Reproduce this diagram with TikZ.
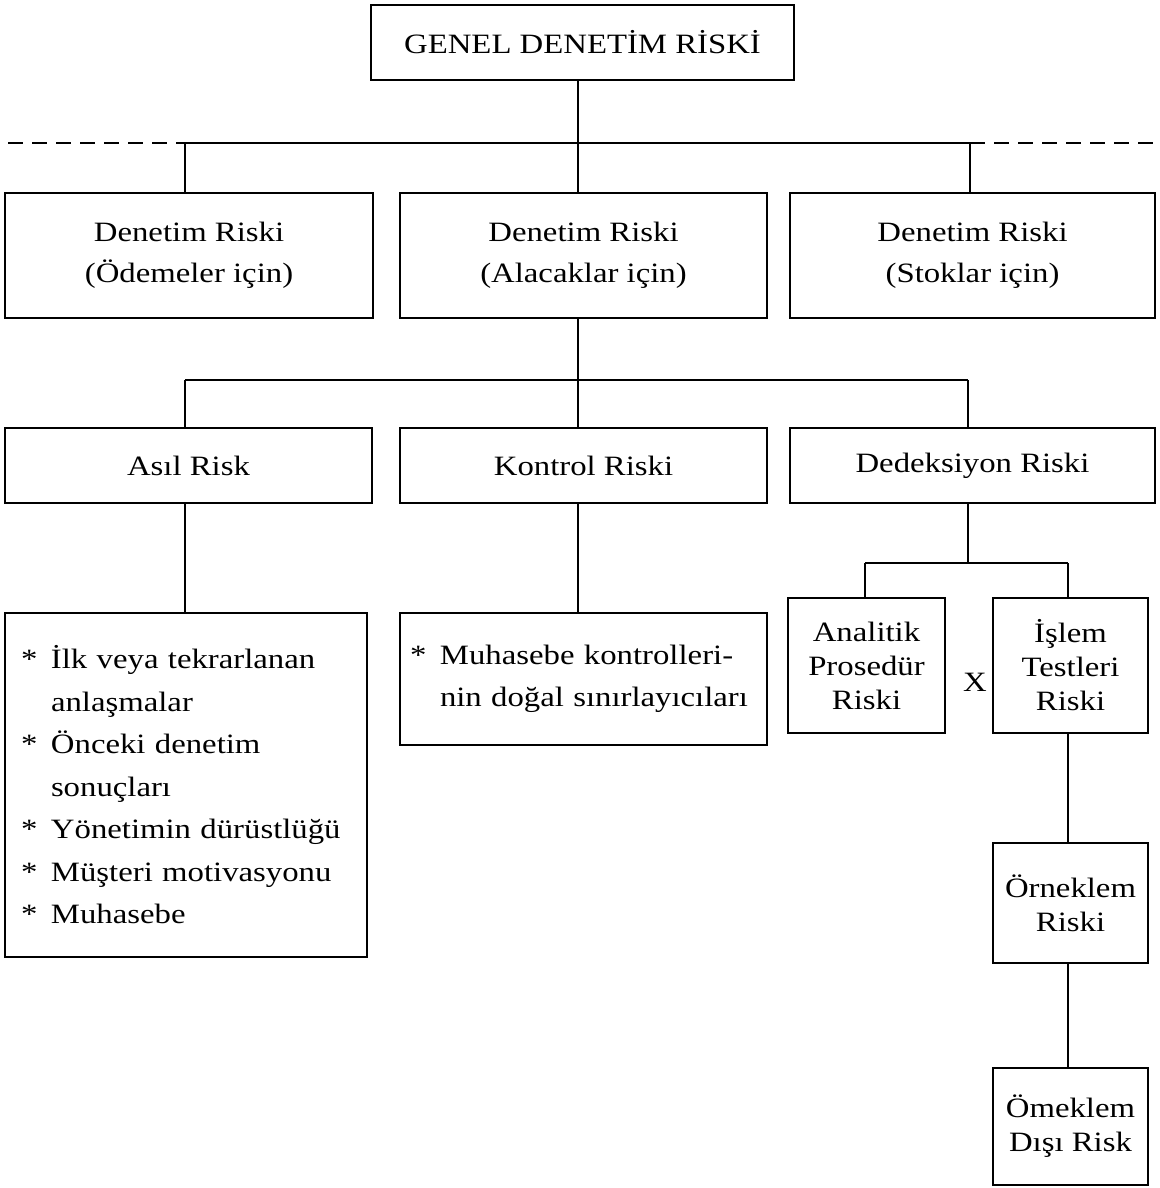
\documentclass[tikz,border=0pt]{standalone}
\usepackage{fontspec}
\setmainfont{Liberation Serif}[FakeStretch=1.17]
\begin{document}
\begin{tikzpicture}[x=1pt,y=-1pt,
  box/.style={draw, line width=2.4pt, inner sep=0pt, align=center, font=\fontsize{28}{41}\selectfont},
  small/.style={box, font=\fontsize{28}{34}\selectfont},
  conn/.style={line width=2.2pt},
  dashconn/.style={line width=2.2pt, dash pattern=on 15pt off 9pt}]
\useasboundingbox (0,0) rectangle (1159,1188);

% top
\node[box, minimum width=423pt, minimum height=75pt] (top) at (582.5,42.5) {GENEL DENETİM RİSKİ};

% row 2
\node[box, minimum width=368pt, minimum height=125pt] (odm) at (189,255.5) {\raisebox{-4pt}{\parbox{300pt}{\centering Denetim Riski\\(Ödemeler için)}}};
\node[box, minimum width=367pt, minimum height=125pt] (alc) at (583.5,255.5) {\raisebox{-4pt}{\parbox{300pt}{\centering Denetim Riski\\(Alacaklar için)}}};
\node[box, minimum width=365pt, minimum height=125pt] (stk) at (972.5,255.5) {\raisebox{-4pt}{\parbox{300pt}{\centering Denetim Riski\\(Stoklar için)}}};

% row 3
\node[box, minimum width=367pt, minimum height=75pt] (asil) at (188.5,465.5) {Asıl Risk};
\node[box, minimum width=367pt, minimum height=75pt] (kont) at (583.5,465.5) {Kontrol Riski};
\node[box, minimum width=365pt, minimum height=75pt] (dedk) at (972.5,465.5) {Dedeksiyon Riski};

% list boxes
\node[box, minimum width=362pt, minimum height=344pt, text width=330pt, align=left,
      font=\fontsize{28}{42.5}\selectfont] (asl) at (186,785)
  {\makebox[30pt][l]{*}İlk veya tekrarlanan\\
   \hspace*{30pt}anlaşmalar\\
   \makebox[30pt][l]{*}Önceki denetim\\
   \hspace*{30pt}sonuçları\\
   \makebox[30pt][l]{*}Yönetimin dürüstlüğü\\
   \makebox[30pt][l]{*}Müşteri motivasyonu\\
   \makebox[30pt][l]{*}Muhasebe};
\node[box, minimum width=367pt, minimum height=132pt, text width=347pt, align=left,
      font=\fontsize{28}{42.5}\selectfont] (kl) at (583.5,679)
  {\makebox[30pt][l]{*}Muhasebe kontrolleri-\\
   \hspace*{30pt}nin doğal sınırlayıcıları};

% dedeksiyon branch
\node[small, minimum width=157pt, minimum height=135pt] (anl) at (866.5,665.5) {Analitik\\Prosedür\\Riski};
\node[small, minimum width=155pt, minimum height=135pt] (isl) at (1070.5,665.5) {İşlem\\Testleri\\Riski};
\node[font=\fontsize{28}{34}\selectfont, inner sep=0pt] (xlab) at (975,682) {X};
\node[small, minimum width=155pt, minimum height=120pt] (orn) at (1070.5,903) {Örneklem\\Riski};
\node[small, minimum width=155pt, minimum height=117pt] (omk) at (1070.5,1126.5) {Ömeklem\\Dışı Risk};

% coordinates
\coordinate (b1) at (578,143);
\coordinate (b1L) at (185,143);
\coordinate (b1R) at (970,143);
\coordinate (dL) at (8,143);
\coordinate (dR) at (1159,143);
\coordinate (b2) at (578,380);
\coordinate (b2L) at (185,380);
\coordinate (b2R) at (968,380);
\coordinate (b3) at (968,563);
\coordinate (b3L) at (865,563);
\coordinate (b3R) at (1068,563);

% connectors level 1
\draw[conn] (top.south -| b1) -- (b1);
\draw[conn] (b1L) -- (b1R);
\draw[dashconn] (dL) -- (b1L);
\draw[dashconn] (b1R) -- (dR);
\draw[conn] (b1L) -- (odm.north -| b1L);
\draw[conn] (b1) -- (alc.north -| b1);
\draw[conn] (b1R) -- (stk.north -| b1R);

% connectors level 2
\draw[conn] (alc.south -| b2) -- (b2);
\draw[conn] (b2L) -- (b2R);
\draw[conn] (b2L) -- (asil.north -| b2L);
\draw[conn] (b2) -- (kont.north -| b2);
\draw[conn] (b2R) -- (dedk.north -| b2R);

% connectors level 3
\draw[conn] (asil.south -| b2L) -- (asl.north -| b2L);
\draw[conn] (kont.south -| b2) -- (kl.north -| b2);
\draw[conn] (dedk.south -| b3) -- (b3);
\draw[conn] (b3L) -- (b3R);
\draw[conn] (b3L) -- (anl.north -| b3L);
\draw[conn] (b3R) -- (isl.north -| b3R);
\draw[conn] (isl.south -| b3R) -- (orn.north -| b3R);
\draw[conn] (orn.south -| b3R) -- (omk.north -| b3R);
\end{tikzpicture}
\end{document}
